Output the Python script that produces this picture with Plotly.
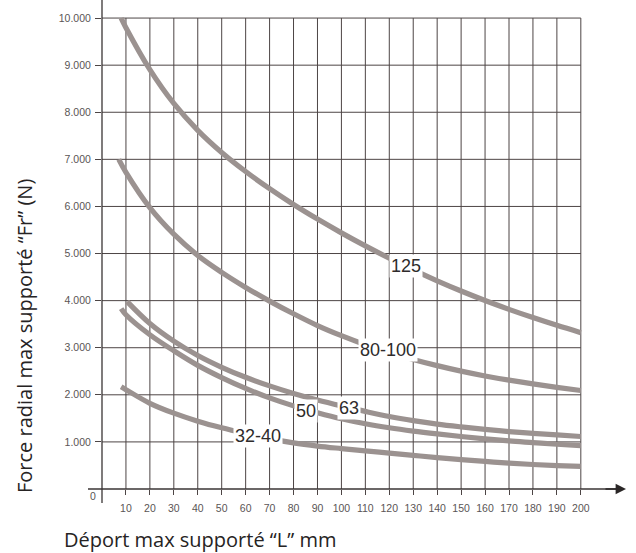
import plotly.graph_objects as go

# ---------------- data ----------------
x_ticks = [10, 20, 30, 40, 50, 60, 70, 80, 90, 100, 110, 120, 130, 140, 150,
           160, 170, 180, 190, 200]
x_tick_labels = [str(v) for v in x_ticks]
y_ticks = [1000, 2000, 3000, 4000, 5000, 6000, 7000, 8000, 9000, 10000]
y_tick_labels = ["1.000", "2.000", "3.000", "4.000", "5.000", "6.000",
                 "7.000", "8.000", "9.000", "10.000"]

x_125 = [8, 10, 20, 30, 40, 50, 60, 70, 80, 90, 100, 110, 120, 130, 140, 150,
         160, 170, 180, 190, 200]
f_125 = [10000, 9796, 8906, 8186, 7616, 7146, 6741, 6376, 6041, 5731, 5439,
         5162, 4900, 4653, 4421, 4204, 4002, 3815, 3640, 3475, 3320]

x_80_100 = [7, 10, 20, 30, 40, 50, 60, 70, 80, 90, 100, 110, 120, 130, 140,
            150, 160, 170, 180, 190, 200]
f_80_100 = [7000, 6725, 5975, 5410, 4960, 4600, 4280, 3990, 3720, 3470, 3255,
            3064, 2899, 2752, 2620, 2503, 2401, 2311, 2231, 2159, 2092]

x_63 = [10.5, 20, 30, 40, 50, 60, 70, 80, 90, 100, 110, 120, 130, 140, 150,
        160, 170, 180, 190, 200]
f_63 = [3980, 3515, 3140, 2835, 2585, 2372, 2190, 2030, 1890, 1765, 1648,
        1540, 1452, 1378, 1318, 1265, 1220, 1183, 1148, 1115]

x_50 = [8, 10, 20, 30, 40, 50, 60, 70, 80, 90, 100, 110, 120, 130, 140, 150,
        160, 170, 180, 190, 200]
f_50 = [3830, 3700, 3275, 2935, 2625, 2365, 2135, 1935, 1765, 1620, 1490,
        1385, 1300, 1230, 1170, 1115, 1065, 1020, 985, 950, 920]

x_32_40 = [8, 10, 20, 30, 40, 50, 60, 70, 80, 90, 100, 110, 120, 130, 140,
           150, 160, 170, 180, 190, 200]
f_32_40 = [2170, 2110, 1820, 1610, 1440, 1300, 1180, 1070, 980, 912, 858,
           808, 762, 715, 668, 625, 585, 550, 520, 497, 480]

series_names = ["125", "80-100", "63", "50", "32-40"]
series_x = [x_125, x_80_100, x_63, x_50, x_32_40]
series_y = [f_125, f_80_100, f_63, f_50, f_32_40]
label_x = [127, 119.5, 103, 85.3, 65]
label_y = [4740, 2960, 1725, 1660, 1130]

x_title = "Déport max supporté “L” mm"
y_title = "Force radial max supporté “Fr” (N)"

# ---------------- style ----------------
CURVE = "#9b9290"
GRID = "#4d4545"
TICKFONT = dict(family="Liberation Sans, Arial, sans-serif", size=10.5,
                color="#5a5555")
TITLEFONT = dict(family="Open Sans, sans-serif", size=20, color="#262323")

fig = go.Figure()

for xs, ys, nm in zip(series_x, series_y, series_names):
    fig.add_trace(go.Scatter(x=xs, y=ys, mode="lines", name=nm,
                             line=dict(color=CURVE, width=5.2, shape="spline",
                                       smoothing=1.0),
                             hoverinfo="skip"))

shapes = []
x_max = x_ticks[-1]
y_max = y_ticks[-1]
for xv in x_ticks:
    shapes.append(dict(type="line", xref="x", yref="y", x0=xv, x1=xv,
                       y0=0, y1=y_max, line=dict(color=GRID, width=1),
                       layer="below"))
for yv in y_ticks:
    shapes.append(dict(type="line", xref="x", yref="y", x0=0, x1=x_max,
                       y0=yv, y1=yv, line=dict(color=GRID, width=1),
                       layer="below"))

# axis lines (paper coords, extending beyond the grid)
W, H = 636, 553
ML, MR, MT, MB = 102, 48, 11, 64
pw = W - ML - MR
ph = H - MT - MB


def px_x(p):
    return (p - ML) / pw


def px_y(p):
    return (H - MB - p) / ph


shapes.append(dict(type="line", xref="paper", yref="paper",
                   x0=px_x(88), x1=px_x(618), y0=0, y1=0,
                   line=dict(color="#3a3535", width=1.3)))
shapes.append(dict(type="line", xref="paper", yref="paper",
                   x0=0, x1=0, y0=px_y(503), y1=px_y(0),
                   line=dict(color="#3a3535", width=1.3)))

annotations = []
for nm, lx, ly in zip(series_names, label_x, label_y):
    annotations.append(dict(x=lx, y=ly, xref="x", yref="y", text=nm,
                            showarrow=False, bgcolor="white", borderpad=1,
                            font=dict(family="Liberation Sans, Arial, sans-serif",
                                      size=18, color="#2e2b2b")))
# zero label
annotations.append(dict(x=0, y=0, xref="x", yref="y", text="0",
                        showarrow=False, xanchor="right", yanchor="middle",
                        xshift=-4, yshift=-7, font=TICKFONT))
# arrow head on x axis
annotations.append(dict(x=px_x(626), y=0, xref="paper", yref="paper",
                        ax=-22, ay=0, text="", showarrow=True, arrowhead=2,
                        arrowsize=1.6, arrowwidth=1.3, arrowcolor="#2a2626"))
# titles
annotations.append(dict(x=px_x(62), y=px_y(539), xref="paper", yref="paper",
                        text=x_title, showarrow=False, xanchor="left",
                        yanchor="middle", font=TITLEFONT))
annotations.append(dict(x=px_x(24), y=px_y(336), xref="paper", yref="paper",
                        text=y_title, showarrow=False, textangle=-90,
                        xanchor="center", yanchor="middle", font=TITLEFONT))

fig.update_layout(
    width=W, height=H,
    margin=dict(l=ML, r=MR, t=MT, b=MB),
    plot_bgcolor="white", paper_bgcolor="white",
    showlegend=False,
    shapes=shapes,
    annotations=annotations,
    xaxis=dict(range=[0, 203], tickvals=x_ticks, ticktext=x_tick_labels,
               showgrid=False, zeroline=False, showline=False,
               ticks="outside", ticklen=5, tickcolor=GRID,
               tickfont=TICKFONT, ticklabelstandoff=4, fixedrange=True),
    yaxis=dict(range=[0, 10150], tickvals=y_ticks, ticktext=y_tick_labels,
               showgrid=False, zeroline=False, showline=False,
               ticks="outside", ticklen=6, tickcolor=GRID,
               tickfont=TICKFONT, ticklabelstandoff=2, fixedrange=True),
)

fig.write_html("out.html",
               config={"displayModeBar": False, "staticPlot": True},
               post_script="document.body.style.margin='0';"
                           "document.body.style.overflow='hidden';")
